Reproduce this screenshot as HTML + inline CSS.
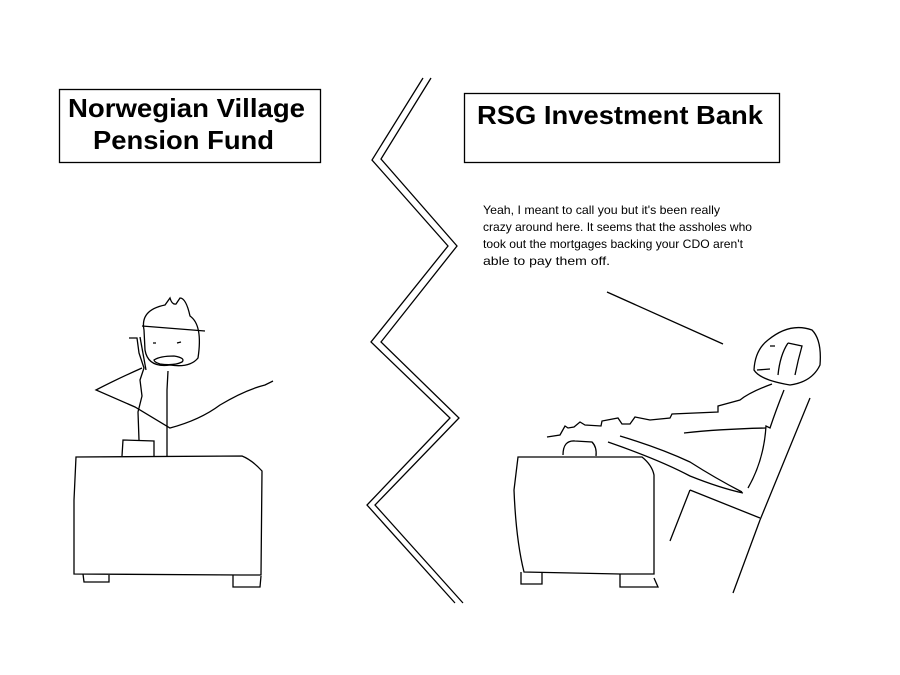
<!DOCTYPE html>
<html><head><style>
html,body{margin:0;padding:0;background:#fff;width:900px;height:675px;overflow:hidden}
svg{display:block}
text{font-family:"Liberation Sans",sans-serif}
</style></head><body>
<svg width="900" height="675" viewBox="0 0 900 675" xmlns="http://www.w3.org/2000/svg">
<rect x="0" y="0" width="900" height="675" fill="#fff"/>
<g fill="none" stroke="#000" stroke-width="1.3">
<rect x="59.5" y="89.5" width="261" height="73"/>
<rect x="464.5" y="93.5" width="315" height="69"/>
<polyline points="423,78 372,160 448,246 371,342 450,418 367,505 455,603"/>
<polyline points="431,78 381,159 457,246 381,342 459,418 375,505 463,603"/>
<path d="M76,457 L242,456 Q252,460 262,471 L261,575 L241,575 L74,574 L74,500 Z"/>
<path d="M83,574 L84,582 L109,582 L109,575"/>
<path d="M233,575 L233,587 L260,587 L261,576"/>
<path d="M122,456 L123,440 L154,441 L154,456"/>
<path d="M167,456 L167,390 L168,371"/>
<path d="M144,330 Q140,310 165,305 L170,298 Q172,305 176,304 L180,298 Q186,298 190,316 Q203,325 198,358 Q190,368 170,365 Q148,368 145,350 Z"/>
<path d="M142,326 L205,331"/>
<path d="M154,360 Q160,356 174,356 Q186,358 182,362 Q174,366 160,364 Q154,362 154,360 Z"/>
<path d="M153,343 L156,343 M177,343 L181,342"/>
<path d="M129,338 L137,338 L139,353 L144,368 L140,380 L142,396 L138,412 L139,440"/>
<path d="M140,337 L146,370"/>
<path d="M142,368 Q115,380 96,390 L135,407 L170,428 Q200,420 220,405 Q245,390 265,385 L273,381"/>
</g>
<text x="68" y="117" font-size="26" font-weight="bold" textLength="237" lengthAdjust="spacingAndGlyphs">Norwegian Village</text>
<text x="93" y="149" font-size="26" font-weight="bold" textLength="181" lengthAdjust="spacingAndGlyphs">Pension Fund</text>
<text x="477" y="124" font-size="26" font-weight="bold" textLength="286" lengthAdjust="spacingAndGlyphs">RSG Investment Bank</text>
<g font-size="12" font-family="'Liberation Sans',sans-serif">
<text x="483" y="214" textLength="237" lengthAdjust="spacingAndGlyphs">Yeah, I meant to call you but it's been really</text>
<text x="483" y="231" textLength="269" lengthAdjust="spacingAndGlyphs">crazy around here. It seems that the assholes who</text>
<text x="483" y="248" textLength="260" lengthAdjust="spacingAndGlyphs">took out the mortgages backing your CDO aren't</text>
<text x="483" y="265" textLength="127" lengthAdjust="spacingAndGlyphs">able to pay them off.</text>
</g>
<g fill="none" stroke="#000" stroke-width="1.3">
<path d="M607,292 L723,344"/>
<path d="M518,457 L642,457 Q652,465 654,475 L654,574 L620,574 L524,572 Q516,540 514,490 Z"/>
<path d="M521,572 L521,584 L542,584 L542,573"/>
<path d="M620,574 L620,587 L658,587 L654,578"/>
<path d="M563,455 Q563,440 575,441 L592,442 Q597,447 596,456"/>
<path d="M810,398 L760,520"/>
<path d="M760,520 L733,593"/>
<path d="M690,490 L760,518"/>
<path d="M690,490 L670,541"/>
<path d="M768,340 Q790,322 812,330 Q822,340 820,365 Q812,382 790,385 Q760,380 754,370 Q755,350 768,340 Z"/>
<path d="M770,346 L775,346 M757,370 L770,369"/>
<path d="M788,343 L802,346 Q798,360 795,375 M788,343 Q780,355 778,375"/>
<path d="M772,384 Q750,392 740,400 L718,406 L718,412 L672,414 L670,418 L650,420 L635,417 L630,424 L622,424 L618,418 L602,421 L601,426 L585,425 L580,422 L574,427 L568,428 L565,426 L560,435 L547,437"/>
<path d="M784,390 Q776,410 770,428 L766,426 Q764,460 748,488"/>
<path d="M684,433 Q720,429 766,428"/>
<path d="M620,436 Q660,448 690,462 Q715,478 742,492"/>
<path d="M608,442 Q660,460 690,476 Q720,488 743,493"/>
</g>
</svg>
</body></html>
